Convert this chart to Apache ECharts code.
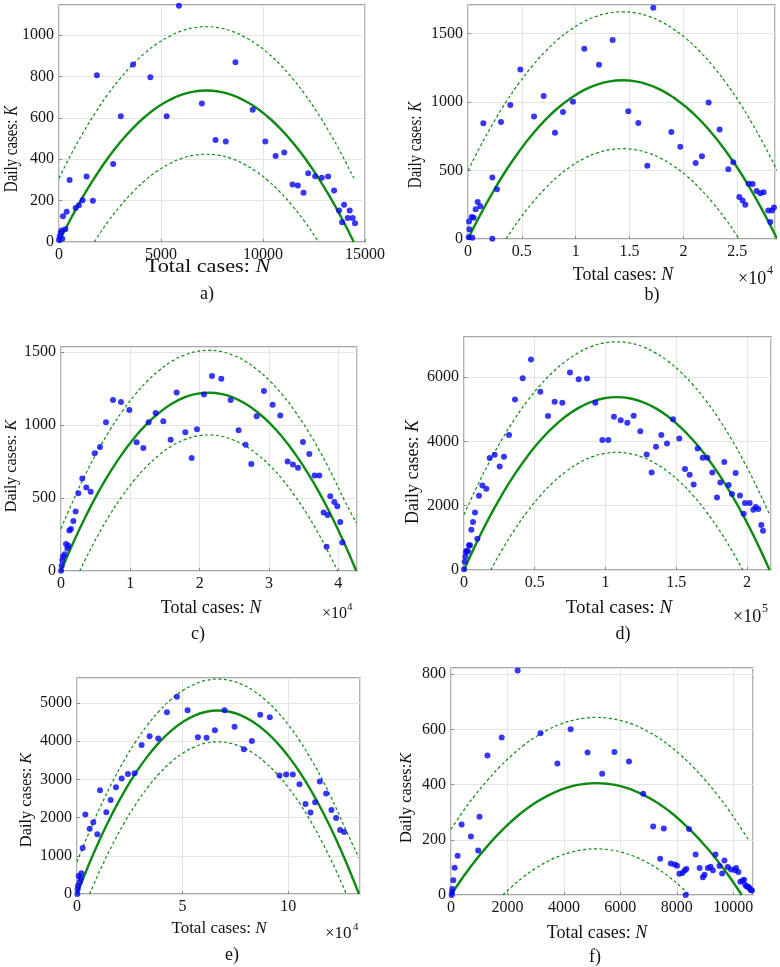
<!DOCTYPE html>
<html><head><meta charset="utf-8">
<script src="https://cdn.jsdelivr.net/npm/echarts@6/dist/echarts.min.js"></script>
<style>html,body{margin:0;padding:0;background:#fff}#c{width:780px;height:967px}</style>
</head><body><div id="c"></div>
<script>
// ---------- panel a ----------
const aPts = [[0,10],[33,26],[81,45],[130,56],[160,16],[195,125],[310,61],[375,146],[520,300],[815,164],[977,177],[1156,202],[1352,316],[1661,199],[1857,806],[2655,377],[3030,608],[3632,857],[4479,796],[5277,607],[5879,1141],[7003,669],[7671,493],[8176,486],[8648,868],[9495,639],[10114,485],[10619,416],[11042,432],[11450,278],[11710,273],[11987,238],[12215,332],[12557,318],[12883,310],[13192,316],[13485,249],[13730,152],[13876,96],[13974,180],[14153,116],[14251,152],[14397,116],[14511,90]];
const aFit = [[0,0],[602,117],[1204,224],[1806,320],[2408,407],[3010,483],[3613,549],[4215,605],[4817,651],[5419,686],[6021,712],[6623,727],[7225,732],[7827,727],[8429,712],[9031,686],[9633,651],[10235,605],[10838,549],[11440,483],[12042,407],[12644,320],[13246,224],[13848,117],[14450,0]];
const aUp = [[0,308],[602,425],[1204,532],[1806,628],[2408,715],[3010,791],[3613,857],[4215,913],[4817,959],[5419,994],[6021,1020],[6623,1035],[7225,1040],[7827,1035],[8429,1020],[9031,994],[9633,959],[10235,913],[10838,857],[11440,791],[12042,715],[12644,628],[13246,532],[13848,425],[14450,308]];
const aLo = [[1727,0],[1806,12],[2408,99],[3010,175],[3613,241],[4215,297],[4817,343],[5419,378],[6021,404],[6623,419],[7225,424],[7827,419],[8429,404],[9031,378],[9633,343],[10235,297],[10838,241],[11440,175],[12042,99],[12644,12],[12723,0]];
// ---------- panel b ----------
const bPts = [[62,12],[124,71],[93,127],[340,161],[402,10],[526,156],[712,217],[897,270],[1145,239],[1423,845],[2259,450],[2259,2],[2692,363],[3063,855],[3929,979],[4858,1239],[6126,896],[7023,1045],[8075,777],[8818,928],[9746,1003],[10798,1390],[12160,1273],[13428,1454],[14882,933],[15811,847],[16646,536],[17203,1690],[18874,782],[19709,674],[21132,555],[21720,604],[22339,998],[23360,801],[24165,509],[24629,560],[25186,307],[25495,282],[25743,251],[26052,404],[26423,402],[26795,351],[27135,334],[27444,341],[27877,209],[28063,124],[28218,209],[28404,231]];
const bFit = [[0,0],[1196,185],[2392,354],[3588,508],[4783,644],[5979,765],[7175,870],[8371,959],[9567,1031],[10763,1088],[11958,1128],[13154,1152],[14350,1160],[15546,1152],[16742,1128],[17938,1088],[19133,1031],[20329,959],[21525,870],[22721,765],[23917,644],[25113,508],[26308,354],[27504,185],[28700,0]];
const bUp = [[0,500],[1196,685],[2392,854],[3588,1008],[4783,1144],[5979,1265],[7175,1370],[8371,1459],[9567,1531],[10763,1588],[11958,1628],[13154,1652],[14350,1660],[15546,1652],[16742,1628],[17938,1588],[19133,1531],[20329,1459],[21525,1370],[22721,1265],[23917,1144],[25113,1008],[26308,854],[27504,685],[28700,500]];
const bLo = [[3525,0],[3588,8],[4783,144],[5979,265],[7175,370],[8371,459],[9567,531],[10763,588],[11958,628],[13154,652],[14350,660],[15546,652],[16742,628],[17938,588],[19133,531],[20329,459],[21525,370],[22721,265],[23917,144],[25113,8],[25175,0]];
// ---------- panel c ----------
const cPts = [[0,2],[96,36],[192,73],[288,100],[529,114],[721,185],[913,155],[1058,173],[1202,278],[1442,287],[1779,342],[2115,408],[2500,533],[3077,634],[3654,572],[4279,543],[4856,807],[5625,850],[6490,1019],[7500,1172],[8654,1158],[9856,1103],[10913,882],[11875,843],[12644,1019],[13654,1083],[14760,1026],[15817,900],[16683,1224],[17933,951],[18846,775],[19615,971],[20625,1210],[21779,1336],[23125,1318],[24471,1172],[25625,964],[26635,866],[27452,734],[28221,1060],[29279,1233],[30529,1140],[31635,1065],[32692,750],[33462,729],[34183,707],[34904,884],[35817,802],[36587,654],[37260,654],[37885,401],[38317,166],[38462,383],[38846,513],[39423,472],[39856,444],[40288,335],[40577,196]];
const cFit = [[0,0],[1775,195],[3550,373],[5325,535],[7100,679],[8875,806],[10650,917],[12425,1010],[14200,1086],[15975,1146],[17750,1188],[19525,1214],[21300,1222],[23075,1214],[24850,1188],[26625,1146],[28400,1086],[30175,1010],[31950,917],[33725,806],[35500,679],[37275,535],[39050,373],[40825,195],[42600,0]];
const cUp = [[0,290],[1775,485],[3550,663],[5325,825],[7100,969],[8875,1096],[10650,1207],[12425,1300],[14200,1376],[15975,1436],[17750,1478],[19525,1504],[21300,1512],[23075,1504],[24850,1478],[26625,1436],[28400,1376],[30175,1300],[31950,1207],[33725,1096],[35500,969],[37275,825],[39050,665],[40825,490],[42600,330]];
const cLo = [[2698,0],[3550,83],[5325,245],[7100,389],[8875,516],[10650,627],[12425,720],[14200,796],[15975,856],[17750,898],[19525,924],[21300,932],[23075,924],[24850,898],[26625,856],[28400,796],[30175,720],[31950,627],[33725,516],[35500,389],[37275,245],[39050,83],[39902,0]];
// ---------- panel d ----------
const dPts = [[0,21],[471,259],[942,415],[1414,549],[1885,601],[2827,580],[3534,767],[4241,767],[5183,1254],[6361,1492],[7775,1793],[9424,974],[10602,2311],[12958,2632],[15785,2529],[18141,3482],[21675,3586],[25209,3223],[28272,3523],[31806,4197],[36047,5306],[41466,5969],[47356,6549],[53954,5544],[59372,4788],[64084,5233],[69502,5202],[74921,6145],[81046,5938],[86936,5959],[92826,5202],[97774,4042],[102015,4042],[106020,4767],[110732,4663],[115444,4580],[119920,4798],[124632,4321],[129108,3596],[132642,3036],[135705,3834],[139475,4197],[143480,3938],[147721,4694],[152197,4093],[156202,3140],[159501,2964],[162328,2663],[165155,3782],[168689,3492],[171987,3492],[175521,3036],[178820,2259],[181176,2725],[184003,3358],[187066,2643],[189422,2363],[192013,3016],[195076,2321],[198610,2083],[197668,1751],[201908,2083],[204500,1876],[206149,1959],[208034,1897],[210154,1399],[211332,1223]];
const dFit = [[0,0],[9000,859],[18000,1644],[27000,2354],[36000,2989],[45000,3549],[54000,4035],[63000,4446],[72000,4782],[81000,5044],[90000,5231],[99000,5343],[108000,5380],[117000,5343],[126000,5231],[135000,5044],[144000,4782],[153000,4446],[162000,4035],[171000,3549],[180000,2989],[189000,2354],[198000,1644],[207000,859],[216000,0]];
const dUp = [[0,1720],[9000,2579],[18000,3364],[27000,4074],[36000,4709],[45000,5269],[54000,5755],[63000,6166],[72000,6502],[81000,6764],[90000,6951],[99000,7063],[108000,7100],[117000,7063],[126000,6951],[135000,6764],[144000,6502],[153000,6166],[162000,5755],[171000,5269],[180000,4709],[189000,4074],[198000,3364],[207000,2579],[216000,1720]];
const dLo = [[18922,0],[27000,634],[36000,1269],[45000,1829],[54000,2315],[63000,2726],[72000,3062],[81000,3324],[90000,3511],[99000,3623],[108000,3660],[117000,3623],[126000,3511],[135000,3324],[144000,3062],[153000,2726],[162000,2315],[171000,1829],[180000,1269],[189000,634],[197078,0]];
// ---------- panel e ----------
const ePts = [[158,0],[315,122],[473,218],[789,471],[1262,305],[1735,401],[2050,541],[2681,1204],[3943,2077],[5993,1710],[7727,1876],[9620,1562],[10881,2714],[13878,2138],[15928,2461],[18451,2792],[21132,3019],[24128,3141],[27282,3159],[30594,3900],[34379,4127],[38479,4066],[42579,4756],[47310,5157],[52356,4808],[57245,4101],[61345,4084],[65288,4285],[69861,4808],[74592,4372],[79008,3787],[82793,4005],[86735,4686],[91309,4625],[95882,3098],[99036,3124],[102190,3124],[105344,2871],[108182,2356],[110548,2129],[112756,2400],[114963,2941],[117960,2627],[120483,2199],[122691,1990],[124583,1675],[126476,1623]];
const eFit = [[0,0],[5563,767],[11125,1467],[16688,2100],[22250,2667],[27813,3167],[33375,3600],[38938,3967],[44500,4267],[50063,4500],[55625,4667],[61188,4767],[66750,4800],[72313,4767],[77875,4667],[83438,4500],[89000,4267],[94563,3967],[100125,3600],[105688,3167],[111250,2667],[116813,2100],[122375,1467],[127938,767],[133500,0]];
const eUp = [[0,840],[5563,1587],[11125,2287],[16688,2920],[22250,3487],[27813,3987],[33375,4420],[38938,4787],[44500,5087],[50063,5320],[55625,5487],[61188,5587],[66750,5620],[72313,5587],[77875,5487],[83438,5320],[89000,5087],[94563,4787],[100125,4420],[105688,3987],[111250,3487],[116813,2920],[122375,2287],[127938,1600],[133500,950]];
const eLo = [[5967,0],[8010,263],[11125,647],[16688,1280],[22250,1847],[27813,2347],[33375,2780],[38938,3147],[44500,3447],[50063,3680],[55625,3847],[61188,3947],[66750,3980],[72313,3947],[77875,3847],[83438,3680],[89000,3447],[94563,3147],[100125,2780],[105688,2347],[111250,1847],[116813,1280],[122375,647],[125490,263],[127533,0]];
// ---------- panel f ----------
const fPts = [[23,0],[35,10],[47,22],[82,53],[129,99],[235,142],[376,255],[705,212],[963,161],[1010,283],[1292,505],[1797,570],[2361,813],[3171,586],[3770,476],[4240,600],[4839,516],[5356,439],[5790,518],[6307,483],[6812,367],[7164,248],[7411,131],[7540,241],[7787,114],[7927,110],[8009,106],[8092,77],[8197,80],[8279,89],[8338,94],[8315,0],[8432,239],[8667,147],[8808,98],[8925,64],[8984,73],[9101,98],[9195,102],[9278,90],[9372,147],[9513,105],[9606,78],[9689,125],[9806,101],[9924,92],[10065,90],[10100,98],[10182,83],[10252,48],[10335,52],[10382,55],[10428,36],[10476,31],[10534,30],[10582,24],[10617,18],[10664,16]];
const fFit = [[0,0],[429,65],[858,124],[1288,177],[1717,225],[2146,267],[2575,304],[3004,335],[3433,360],[3863,380],[4292,394],[4721,402],[5150,405],[5579,402],[6008,394],[6438,380],[6867,360],[7296,335],[7725,304],[8154,267],[8583,225],[9013,177],[9442,124],[9871,65],[10300,0]];
const fUp = [[0,238],[429,303],[858,362],[1288,415],[1717,463],[2146,505],[2575,542],[3004,573],[3433,598],[3863,618],[4292,632],[4721,640],[5150,643],[5579,640],[6008,632],[6438,618],[6867,598],[7296,573],[7725,542],[8154,505],[8583,463],[9013,415],[9442,362],[9871,303],[10300,238],[10570,195]];
const fLo = [[1843,0],[2146,29],[2575,66],[3004,97],[3433,122],[3863,142],[4292,156],[4721,164],[5150,167],[5579,164],[6008,156],[6438,142],[6867,122],[7296,97],[7725,66],[8154,29],[8457,0]];

// axis settings
const xMax = [15000, 28500, 42700, 217000, 134000, 10700];
const xStep = [5000, 5000, 10000, 50000, 50000, 2000];
const xDiv = [1, 1e4, 1e4, 1e5, 1e4, 1];
const yMax = [1145, 1710, 1535, 7250, 5650, 822];
const yStep = [200, 500, 500, 2000, 1000, 200];

const pts = [aPts, bPts, cPts, dPts, ePts, fPts];
const fits = [aFit, bFit, cFit, dFit, eFit, fFit];
const ups = [aUp, bUp, cUp, dUp, eUp, fUp];
const los = [aLo, bLo, cLo, dLo, eLo, fLo];

const FONT = '"Liberation Serif", "Times New Roman", serif';
const GREEN = '#0d8a12';
const gridBoxes = [
  {left:59, top:5, width:306, height:237},
  {left:468, top:5, width:307, height:234},
  {left:61, top:347, width:296, height:224},
  {left:464, top:337, width:307, height:233},
  {left:77, top:678, width:283, height:216},
  {left:451, top:668, width:302, height:227}
];

const grid = [], xAxis = [], yAxis = [], series = [];
for (let i = 0; i < 6; i++) {
  grid.push(Object.assign({show:true, borderColor:'#8a8a8a', borderWidth:1.3, backgroundColor:'#fff', containLabel:false}, gridBoxes[i]));
  const common = {
    gridIndex:i, type:'value', min:0,
    axisLine:{show:false},
    axisTick:{show:true, inside:true, length:3, lineStyle:{color:'#8a8a8a'}},
    splitLine:{show:true, lineStyle:{color:'#e4e4e4', width:1}},
    axisLabel:{fontFamily:FONT, fontSize:16, color:'#151515', showMaxLabel:false}
  };
  const div = xDiv[i];
  xAxis.push(Object.assign({}, common, {
    max:xMax[i], interval:xStep[i],
    axisLabel:Object.assign({}, common.axisLabel, {margin:5, showMaxLabel: i===0, formatter:v => String(+(v/div).toFixed(2))})
  }));
  yAxis.push(Object.assign({}, common, {
    max:yMax[i], interval:yStep[i],
    axisLabel:Object.assign({}, common.axisLabel, {margin:5, formatter:v => String(v)})
  }));
  series.push({type:'line', xAxisIndex:i, yAxisIndex:i, data:ups[i], smooth:true, showSymbol:false, silent:true, z:2,
    lineStyle:{color:GREEN, width:1.2, type:[3,2.5]}});
  series.push({type:'line', xAxisIndex:i, yAxisIndex:i, data:los[i], smooth:true, showSymbol:false, silent:true, z:2,
    lineStyle:{color:GREEN, width:1.2, type:[3,2.5]}});
  series.push({type:'line', xAxisIndex:i, yAxisIndex:i, data:fits[i], smooth:true, showSymbol:false, silent:true, z:3,
    lineStyle:{color:GREEN, width:2.4}});
  series.push({type:'scatter', xAxisIndex:i, yAxisIndex:i, data:pts[i], symbolSize:6, silent:true, z:5,
    itemStyle:{color:'#0505f5'}});
}

function txt(x, y, text, fs, rot, align, sx) {
  return {type:'text', x:x, y:y, rotation:rot || 0, scaleX: sx || 1, silent:true, z:10,
    style:{text:text, fill:'#111', font: fs + 'px ' + FONT, fontSize:fs, fontFamily:FONT,
      align:align || 'center', verticalAlign:'middle', textAlign:align || 'center', textVerticalAlign:'middle',
      rich:{n:{fontSize:fs, fontFamily:FONT, fill:'#111', color:'#111'}, i:{fontSize:fs, fontFamily:FONT, fontStyle:'italic', fill:'#111', color:'#111'}}}};
}
const R = Math.PI/2;
const graphic = [
  txt(12, 149, '{n|Daily cases: }{i|K}', 18, R, null, 0.83),
  txt(416, 145, '{n|Daily cases: }{i|K}', 18, R, null, 0.83),
  txt(12, 466, '{n|Daily cases: }{i|K}', 17, R, null, 0.94),
  txt(413, 472, '{n|Daily cases: }{i|K}', 18, R),
  txt(27, 800, '{n|Daily cases: }{i|K}', 17, R, null, 0.96),
  txt(407, 798, '{n|Daily cases:}{i|K}', 17, R, null, 0.96),
  txt(208, 267, '{n|Total cases: }{i|N}', 18, 0, null, 1.24),
  txt(623, 275, '{n|Total cases: }{i|N}', 18),
  txt(211, 608, '{n|Total cases: }{i|N}', 18),
  txt(619, 608, '{n|Total cases: }{i|N}', 19),
  txt(219, 929, '{n|Total cases: }{i|N}', 17),
  txt(597, 933, '{n|Total cases: }{i|N}', 18),
  txt(207, 294, 'a)', 18), txt(652, 295, 'b)', 18), txt(198, 634, 'c)', 18),
  txt(623, 634, 'd)', 18), txt(232, 955, 'e)', 18), txt(595, 957, 'f)', 18),
  txt(738, 279, '×10', 18, 0, 'left'), txt(767, 271, '4', 12, 0, 'left'),
  txt(322, 614, '×10', 16, 0, 'left'), txt(347, 607, '4', 11, 0, 'left'),
  txt(733, 617, '×10', 18, 0, 'left'), txt(762, 609, '5', 12, 0, 'left'),
  txt(325, 934, '×10', 17, 0, 'left'), txt(353, 927, '4', 11, 0, 'left')
];

const chart = echarts.init(document.getElementById('c'), null, {renderer:'canvas'});
chart.setOption({animation:false, backgroundColor:'#fff', grid, xAxis, yAxis, series, graphic});
</script>
</body></html>
